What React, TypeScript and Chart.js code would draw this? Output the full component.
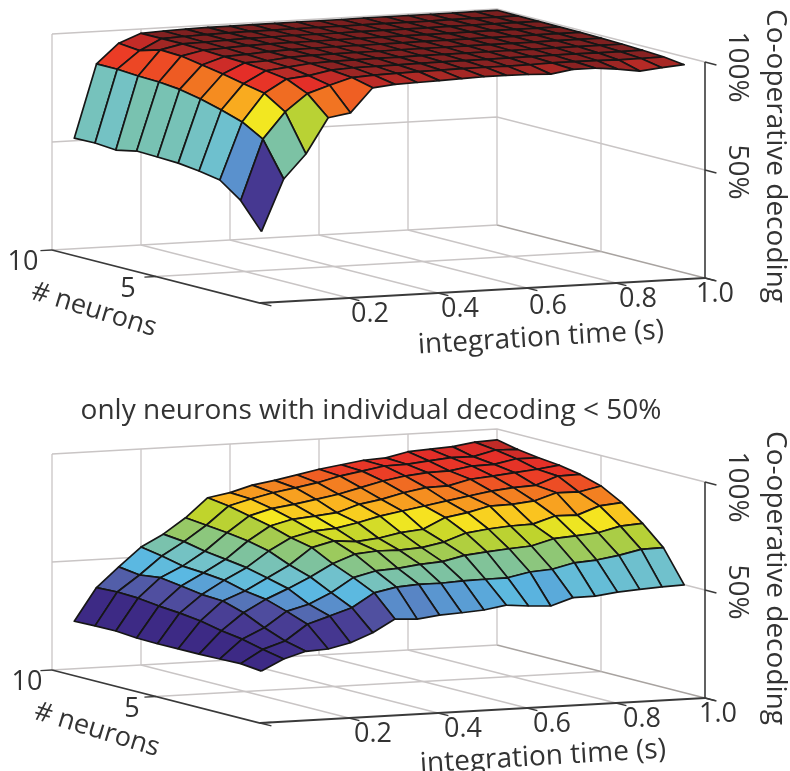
import React, { useEffect, useRef } from "react";
import { Chart, registerables } from "chart.js";

Chart.register(...registerables);

const neurons = [1, 2, 3, 4, 5, 6, 7, 8, 9, 10];
const times = [0.05, 0.1, 0.15, 0.2, 0.25, 0.3, 0.35, 0.4, 0.45, 0.5, 0.55, 0.6, 0.65, 0.7, 0.75, 0.8, 0.85, 0.9, 0.95, 1.0];

// decoding %, one row per integration time, columns = neurons 1..10
const allNeuronsDecoding = [
  [30, 42, 49, 50.7, 51.9, 52.3, 52.6, 50.6, 51.4, 51.2],
  [53.8, 69.8, 75.3, 78.4, 81, 83, 84, 84.3, 85, 85],
  [64.8, 81.8, 88, 90, 92, 93.7, 95.4, 95.8, 93, 94],
  [81, 89.7, 94, 95.4, 96.6, 97, 97.5, 98, 98, 98],
  [82.7, 93, 95, 96.5, 97, 97.5, 98, 98.2, 98.4, 98.5],
  [93.7, 96, 97, 97.6, 98, 98.2, 98.5, 98.6, 98.7, 98.8],
  [94.7, 96.5, 97.5, 98, 98.3, 98.5, 98.7, 98.8, 98.9, 99],
  [95, 96.8, 97.6, 98.1, 98.4, 98.6, 98.8, 98.9, 99, 99],
  [95.3, 97, 97.7, 98.2, 98.5, 98.7, 98.8, 99, 99, 99.1],
  [95.6, 97.1, 97.8, 98.2, 98.5, 98.7, 98.9, 99, 99.1, 99.1],
  [96, 97.2, 97.9, 98.3, 98.6, 98.8, 98.9, 99, 99.1, 99.2],
  [96, 97.3, 97.9, 98.3, 98.6, 98.8, 99, 99.1, 99.1, 99.2],
  [95.8, 97.2, 97.9, 98.3, 98.6, 98.9, 99, 99.1, 99.2, 99.2],
  [95.4, 97.3, 98, 98.4, 98.7, 98.9, 99, 99.1, 99.2, 99.3],
  [97, 97.6, 98, 98.4, 98.7, 98.9, 99, 99.1, 99.2, 99.3],
  [97, 97.6, 98.1, 98.4, 98.7, 98.9, 99.1, 99.2, 99.2, 99.3],
  [96, 97.5, 98.1, 98.5, 98.7, 98.9, 99.1, 99.2, 99.3, 99.3],
  [94.5, 97.2, 98, 98.5, 98.8, 99, 99.1, 99.2, 99.3, 99.3],
  [95.5, 97.3, 98, 98.5, 98.8, 99, 99.1, 99.2, 99.3, 99.4],
  [96.3, 97.5, 98.1, 98.5, 98.8, 99, 99.1, 99.2, 99.3, 99.4],
];

const weakNeuronsDecoding = [
  [21, 22, 21.7, 21.5, 21.5, 21.4, 21.6, 22.4, 22.3, 22],
  [26, 28, 30.3, 31.7, 33.8, 35, 35.8, 37, 37.4, 37],
  [29, 31.3, 35, 39.5, 42.5, 43, 44.5, 45.9, 44.7, 46],
  [29.5, 38.5, 42, 45.1, 46.5, 49, 50, 50.7, 52.9, 54.6],
  [31.8, 41.7, 44.7, 49.5, 52, 54.3, 55.7, 57, 59, 60],
  [35.9, 45, 49.5, 54.3, 57.4, 61.4, 63.6, 65, 66, 67],
  [41.6, 51.3, 55.9, 59.9, 64.9, 67, 70, 72.2, 74.3, 75.7],
  [41, 53.4, 58.4, 63.7, 67.4, 69.5, 72.5, 75, 77, 77.5],
  [42.3, 54.1, 59, 64.6, 66.5, 70.2, 73.4, 76.4, 79.3, 80.4],
  [42.8, 54, 60.3, 64.4, 67.5, 72.2, 74.4, 78.1, 81, 82],
  [43.5, 54.5, 61, 65, 69.5, 74.7, 77.7, 79.9, 82.8, 84],
  [45.2, 54.7, 63.3, 67, 70.5, 76.5, 79.4, 82.4, 85.3, 86],
  [44.2, 54.8, 64.3, 70.6, 75.3, 78.2, 81.9, 84.9, 87, 87.5],
  [43.6, 56.9, 65.2, 71.9, 77, 80, 83.7, 86.6, 88.8, 89],
  [46.9, 57.6, 65.9, 72.7, 79.5, 81.7, 83.9, 87.6, 89, 89.5],
  [47, 60, 68.7, 73, 79.7, 83.4, 86.4, 87.8, 90, 91.8],
  [48.3, 60.7, 69.4, 76.2, 80.7, 84.4, 87.3, 89.5, 90.9, 92.4],
  [49, 62.3, 70.3, 76, 83.9, 84.9, 88.3, 89.7, 90.8, 93],
  [49.6, 64.5, 72.8, 79.7, 83.7, 88.6, 89.3, 91.7, 93.3, 94.5],
  [49.9, 64.7, 73.5, 80.6, 85.9, 88.8, 90.6, 91.6, 93, 95],
];

const timeTicks = [0.2, 0.4, 0.6, 0.8, 1.0];
const timeTickLabels = ["0.2", "0.4", "0.6", "0.8", "1.0"];
const neuronTicks = [5, 10];
const neuronTickLabels = ["5", "10"];
const decodingTicks = [50, 100];
const decodingTickLabels = ["50%", "100%"];
const chartTitle = "only neurons with individual decoding < 50%";
const xAxisName = "integration time (s)";
const yAxisName = "# neurons";
const zAxisName = "Co-operative decoding";

// colour map: decoding value -> colour
const colorStops: [number, number[]][] = [
  [24, [61, 42, 133]],
  [30, [70, 56, 145]],
  [36, [80, 80, 160]],
  [39, [84, 110, 180]],
  [42, [90, 145, 205]],
  [44.5, [90, 184, 226]],
  [50, [114, 194, 202]],
  [54, [125, 194, 162]],
  [58, [145, 200, 112]],
  [62, [168, 204, 72]],
  [66, [192, 212, 44]],
  [70, [245, 232, 32]],
  [74, [251, 184, 31]],
  [78, [245, 144, 32]],
  [82, [240, 106, 34]],
  [85, [235, 60, 38]],
  [90, [228, 46, 40]],
  [92, [205, 44, 40]],
  [95, [176, 42, 38]],
  [97, [138, 34, 34]],
  [99, [122, 31, 31]],
];

function colorFor(v: number) {
  if (v <= colorStops[0][0]) return `rgb(${colorStops[0][1].join(",")})`;
  for (let i = 1; i < colorStops.length; i++) {
    const [b, cb] = colorStops[i];
    const [a, ca] = colorStops[i - 1];
    if (v <= b) {
      const f = (v - a) / (b - a);
      return `rgb(${ca.map((c, k) => Math.round(c + (cb[k] - c) * f)).join(",")})`;
    }
  }
  return `rgb(${colorStops[colorStops.length - 1][1].join(",")})`;
}

const GRID = "#c9c5c5";
const AXIS = "#3a3a3a";
const TEXT = "#333333";
const FONT = '"Open Sans", sans-serif';

// oblique view of the (time, neurons, decoding) box, in chart-scale units
function view(t: number, n: number, z: number, dy: number) {
  return { x: 260 + 445 * t - 20.8 * n, y: 303 + dy - 25 * t - 5.3 * n - 2.16 * z };
}

function seg(points: { x: number; y: number }[], color: string, width: number) {
  return {
    data: points,
    borderColor: color,
    borderWidth: width,
    backgroundColor: "transparent",
    fill: false,
    pointRadius: 0,
    tension: 0,
  };
}

function surfaceDatasets(rows: number[][], dy: number) {
  const out: any[] = [];
  // nearest cell first: Chart.js paints the first dataset on top
  for (let i = 0; i < neurons.length - 1; i++) {
    for (let j = 0; j < times.length - 1; j++) {
      const p = (jj: number, ii: number) => view(times[jj], neurons[ii], rows[jj][ii], dy);
      const a = p(j, i);
      out.push({
        data: [a, p(j + 1, i), p(j + 1, i + 1), p(j, i + 1), a],
        borderColor: "#161616",
        borderWidth: 1.7,
        backgroundColor: colorFor(rows[j][i]),
        fill: "shape",
        pointRadius: 0,
        tension: 0,
        borderJoinStyle: "round",
      });
    }
  }
  return out;
}

function boxDatasets(dy: number) {
  const out: any[] = [];
  const v = (t: number, n: number, z: number) => view(t, n, z, dy);
  // axes on top of the grid
  out.push(seg([v(0, 10, 0), v(0, 0, 0), v(1, 0, 0)], AXIS, 1.8));
  out.push(seg([v(1, 0, 0), v(1, 0, 100)], AXIS, 1.6));
  decodingTicks.forEach((z) => {
    out.push(seg([v(1, 0, z), v(1, -0.55, z)], AXIS, 1.6));
  });
  out.push(seg([v(1, 0, 0), v(1, -0.55, 0)], AXIS, 1.6));
  out.push(seg([v(0, 0, 0), v(0, -0.55, 0)], AXIS, 1.4));
  out.push(seg([v(0, 0, 0), v(0.026, 0, 0)], AXIS, 1.4));
  timeTicks.forEach((t) => {
    out.push(seg([v(t, 0, 0), v(t, -0.5, 0)], AXIS, 1.4));
  });
  neuronTicks.forEach((n) => {
    out.push(seg([v(0, n, 0), v(-0.026, n, 0)], AXIS, 1.4));
  });
  // back walls
  [0, ...timeTicks].forEach((t) => {
    out.push(seg([v(t, 10, 0), v(t, 10, 100)], GRID, 1.3));
  });
  out.push(seg([v(1, 5, 0), v(1, 5, 100)], GRID, 1.3));
  decodingTicks.forEach((z) => {
    out.push(seg([v(0, 10, z), v(1, 10, z), v(1, 0, z)], GRID, 1.3));
  });
  // floor
  timeTicks.forEach((t) => {
    out.push(seg([v(t, 0, 0), v(t, 10, 0)], t === 1 ? "#a8a3a0" : GRID, 1.3));
  });
  out.push(seg([v(0, 5, 0), v(1, 5, 0)], GRID, 1.3));
  out.push(seg([v(0, 10, 0), v(1, 10, 0)], GRID, 1.3));
  return out;
}

function label(ctx: CanvasRenderingContext2D, s: string, x: number, y: number, size: number, angleDeg = 0) {
  ctx.save();
  ctx.translate(x, y);
  ctx.rotate((angleDeg * Math.PI) / 180);
  ctx.font = `${size}px ${FONT}`;
  ctx.fillStyle = TEXT;
  ctx.textAlign = "center";
  ctx.textBaseline = "middle";
  ctx.fillText(s, 0, 0);
  ctx.restore();
}

const textPlugin = {
  id: "panelText",
  afterDraw(chart: any) {
    const ctx = chart.ctx;
    const xs = chart.scales.x;
    const ys = chart.scales.y;
    const put = (s: string, x: number, y: number, size: number, a = 0) =>
      label(ctx, s, xs.getPixelForValue(x), ys.getPixelForValue(y), size, a);

    const tickX = [
      [370, 314],
      [460, 309],
      [548, 306],
      [638, 299],
      [715, 294],
    ];
    const tickXB = [
      [373, 734],
      [463, 729],
      [552, 724],
      [642, 719],
      [718, 714],
    ];
    timeTickLabels.forEach((s, i) => {
      put(s, tickX[i][0], tickX[i][1], 27);
      put(s, tickXB[i][0], tickXB[i][1], 27);
    });
    put(neuronTickLabels[1], 23, 262, 27);
    put(neuronTickLabels[0], 128, 289, 27);
    put(neuronTickLabels[1], 27, 682, 27);
    put(neuronTickLabels[0], 132, 709, 27);
    put(yAxisName, 94, 310, 27, 17);
    put(yAxisName, 97, 730, 27, 17);
    put(xAxisName, 541, 338, 28, -3.5);
    put(xAxisName, 543, 757, 28, -3.5);
    put(decodingTickLabels[1], 737, 67, 28, 90);
    put(decodingTickLabels[0], 737, 172, 28, 90);
    put(decodingTickLabels[1], 737, 487, 28, 90);
    put(decodingTickLabels[0], 737, 592, 28, 90);
    put(zAxisName, 775, 156, 28, 90);
    put(zAxisName, 775, 578, 28, 90);
    put(chartTitle, 371, 411, 28);
  },
};

export default function App() {
  const ref = useRef<HTMLCanvasElement>(null);
  useEffect(() => {
    const canvas = ref.current;
    if (!canvas) return;
    const chart = new Chart(canvas, {
      type: "line",
      data: {
        datasets: [
          ...surfaceDatasets(allNeuronsDecoding, 0),
          ...surfaceDatasets(weakNeuronsDecoding, 420),
          ...boxDatasets(0),
          ...boxDatasets(420),
        ],
      },
      options: {
        animation: false,
        responsive: false,
        parsing: false,
        normalized: false,
        layout: { padding: 0 },
        clip: false,
        scales: {
          x: { type: "linear", min: 0, max: 790, display: false },
          y: { type: "linear", min: 0, max: 771, reverse: true, display: false },
        },
        plugins: { legend: { display: false }, tooltip: { enabled: false }, title: { display: false } },
      } as any,
      plugins: [textPlugin],
    } as any);
    return () => chart.destroy();
  }, []);
  return (
    <div style={{ position: "fixed", left: 0, top: 0, width: 790, height: 771, background: "#fff" }}>
      <canvas ref={ref} width={790} height={771} style={{ display: "block" }} />
    </div>
  );
}
